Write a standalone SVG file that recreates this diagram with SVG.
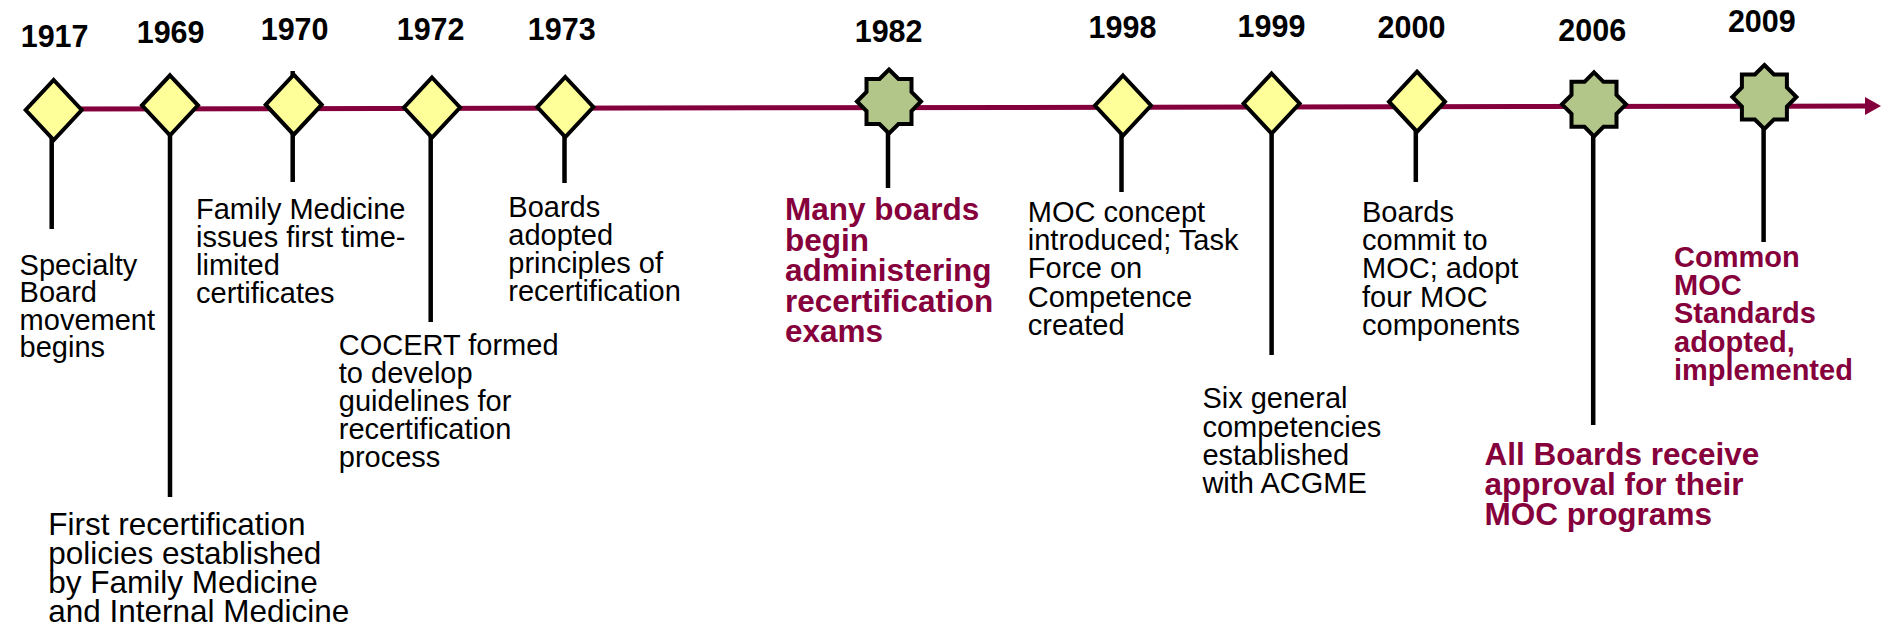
<svg xmlns="http://www.w3.org/2000/svg" xmlns:xlink="http://www.w3.org/1999/xlink" width="1884" height="630" viewBox="0 0 1884 630">
  <style>
    text { font-family: "Liberation Sans", Arial, sans-serif; fill: #000; }
    .yr { font-size: 30.5px; font-weight: bold; }
    .body { font-size: 29px; }
    .big { font-size: 31.5px; }
    .hl { font-size: 31.5px; font-weight: bold; fill: #86003C; }
    .hl2 { font-size: 29px; font-weight: bold; fill: #86003C; }
    .stem { stroke: #000; stroke-width: 4.5; fill: none; }
    .axis { stroke: #84003C; stroke-width: 5; fill: none; }
    .mark { fill: #FFFF99; stroke: #000; stroke-width: 4; stroke-linejoin: miter; }
    .star { fill: #B3C689; stroke: #000; stroke-width: 4; stroke-linejoin: miter; }
  </style>
  <defs>
    <path id="diamond" d="M0,-30 L28,0 L0,30 L-28,0 Z"/>
    <path id="octagram" d="M0,-32 L9.5,-22.5 L22.5,-22.5 L22.5,-9.5 L32,0 L22.5,9.5 L22.5,22.5 L9.5,22.5 L0,32 L-9.5,22.5 L-22.5,22.5 L-22.5,9.5 L-32,0 L-22.5,-9.5 L-22.5,-22.5 L-9.5,-22.5 Z"/>
    <marker id="arrowhead" viewBox="0 0 16 18" refX="1" refY="9" markerWidth="16" markerHeight="18" markerUnits="userSpaceOnUse" orient="auto">
      <path d="M0,0 L16,9 L0,18 Z" fill="#84003C"/>
    </marker>
  </defs>

  <rect width="1884" height="630" fill="#fff"/>

  <!-- timeline axis and drop lines -->
  <g id="connectors">
    <path class="axis" d="M54,109 L1866,106" marker-end="url(#arrowhead)"/>
    <line class="stem" x1="51.7" y1="130" x2="51.7" y2="229"/>
    <line class="stem" x1="170" y1="125" x2="170" y2="497"/>
    <line class="stem" x1="292.7" y1="71" x2="292.7" y2="182"/>
    <line class="stem" x1="430.7" y1="125" x2="430.7" y2="322"/>
    <line class="stem" x1="564.5" y1="125" x2="564.5" y2="183"/>
    <line class="stem" x1="888" y1="125" x2="888" y2="188"/>
    <line class="stem" x1="1121.5" y1="125" x2="1121.5" y2="192"/>
    <line class="stem" x1="1271.6" y1="125" x2="1271.6" y2="355"/>
    <line class="stem" x1="1415.8" y1="125" x2="1415.8" y2="182"/>
    <line class="stem" x1="1593.2" y1="125" x2="1593.2" y2="425"/>
    <line class="stem" x1="1763.6" y1="120" x2="1763.6" y2="242"/>
  </g>

  <g id="node-1917">
    <use xlink:href="#diamond" href="#diamond" class="mark" x="53.7" y="110"/>
    <text class="yr" x="20.7" y="46.7">1917</text>
    <text class="body">
      <tspan x="19.6" y="275">Specialty</tspan>
      <tspan x="19.6" y="302.3">Board</tspan>
      <tspan x="19.6" y="329.6">movement</tspan>
      <tspan x="19.6" y="357">begins</tspan>
    </text>
  </g>

  <g id="node-1969">
    <use xlink:href="#diamond" href="#diamond" class="mark" x="170" y="105.3"/>
    <text class="yr" x="136.7" y="42.7">1969</text>
    <text class="big">
      <tspan x="48.2" y="535">First recertification</tspan>
      <tspan x="48.2" y="564">policies established</tspan>
      <tspan x="48.2" y="593">by Family Medicine</tspan>
      <tspan x="48.2" y="622">and Internal Medicine</tspan>
    </text>
  </g>

  <g id="node-1970">
    <use xlink:href="#diamond" href="#diamond" class="mark" x="293.7" y="104.7"/>
    <text class="yr" x="260.7" y="40">1970</text>
    <text class="body">
      <tspan x="196" y="219">Family Medicine</tspan>
      <tspan x="196" y="247">issues first time-</tspan>
      <tspan x="196" y="275">limited</tspan>
      <tspan x="196" y="303">certificates</tspan>
    </text>
  </g>

  <g id="node-1972">
    <use xlink:href="#diamond" href="#diamond" class="mark" x="432" y="107.5"/>
    <text class="yr" x="396.7" y="40">1972</text>
    <text class="body">
      <tspan x="338.8" y="355">COCERT formed</tspan>
      <tspan x="338.8" y="383">to develop</tspan>
      <tspan x="338.8" y="411">guidelines for</tspan>
      <tspan x="338.8" y="439">recertification</tspan>
      <tspan x="338.8" y="467">process</tspan>
    </text>
  </g>

  <g id="node-1973">
    <use xlink:href="#diamond" href="#diamond" class="mark" x="565.3" y="107"/>
    <text class="yr" x="527.8" y="40">1973</text>
    <text class="body">
      <tspan x="508.3" y="217">Boards</tspan>
      <tspan x="508.3" y="245">adopted</tspan>
      <tspan x="508.3" y="273">principles of</tspan>
      <tspan x="508.3" y="301">recertification</tspan>
    </text>
  </g>

  <g id="node-1982">
    <use xlink:href="#octagram" href="#octagram" class="star" x="889" y="101.5"/>
    <text class="yr" x="854.7" y="41.7">1982</text>
    <text class="hl">
      <tspan x="784.9" y="220">Many boards</tspan>
      <tspan x="784.9" y="250.5">begin</tspan>
      <tspan x="784.9" y="281">administering</tspan>
      <tspan x="784.9" y="311.5">recertification</tspan>
      <tspan x="784.9" y="342">exams</tspan>
    </text>
  </g>

  <g id="node-1998">
    <use xlink:href="#diamond" href="#diamond" class="mark" x="1123" y="105.5"/>
    <text class="yr" x="1088.6" y="38.3">1998</text>
    <text class="body">
      <tspan x="1027.8" y="221.7">MOC concept</tspan>
      <tspan x="1027.8" y="250">introduced; Task</tspan>
      <tspan x="1027.8" y="278.3">Force on</tspan>
      <tspan x="1027.8" y="306.7">Competence</tspan>
      <tspan x="1027.8" y="335">created</tspan>
    </text>
  </g>

  <g id="node-1999">
    <use xlink:href="#diamond" href="#diamond" class="mark" x="1271.6" y="103.5"/>
    <text class="yr" x="1237.5" y="37.3">1999</text>
    <text class="body">
      <tspan x="1202.4" y="408.3">Six general</tspan>
      <tspan x="1202.4" y="436.6">competencies</tspan>
      <tspan x="1202.4" y="464.9">established</tspan>
      <tspan x="1202.4" y="493">with ACGME</tspan>
    </text>
  </g>

  <g id="node-2000">
    <use xlink:href="#diamond" href="#diamond" class="mark" x="1417" y="101.7"/>
    <text class="yr" x="1377.6" y="38.3">2000</text>
    <text class="body">
      <tspan x="1362" y="221.7">Boards</tspan>
      <tspan x="1362" y="250">commit to</tspan>
      <tspan x="1362" y="278.3">MOC; adopt</tspan>
      <tspan x="1362" y="306.7">four MOC</tspan>
      <tspan x="1362" y="335">components</tspan>
    </text>
  </g>

  <g id="node-2006">
    <use xlink:href="#octagram" href="#octagram" class="star" x="1594" y="104.3"/>
    <text class="yr" x="1558.3" y="40.7">2006</text>
    <text class="hl">
      <tspan x="1484.4" y="465">All Boards receive</tspan>
      <tspan x="1484.4" y="495">approval for their</tspan>
      <tspan x="1484.4" y="525">MOC programs</tspan>
    </text>
  </g>

  <g id="node-2009">
    <use xlink:href="#octagram" href="#octagram" class="star" x="1764.4" y="97"/>
    <text class="yr" x="1727.9" y="32.3">2009</text>
    <text class="hl2">
      <tspan x="1674" y="266.7">Common</tspan>
      <tspan x="1674" y="295">MOC</tspan>
      <tspan x="1674" y="323.3">Standards</tspan>
      <tspan x="1674" y="351.7">adopted,</tspan>
      <tspan x="1674" y="380">implemented</tspan>
    </text>
  </g>
</svg>
